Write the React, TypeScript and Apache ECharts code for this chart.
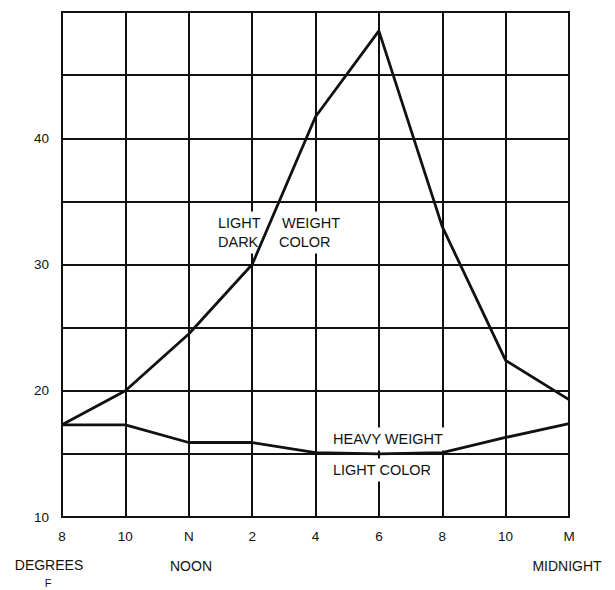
import React, { useEffect, useRef } from "react";
import * as echarts from "echarts";

const categories = ["8", "10", "N", "2", "4", "6", "8", "10", "M"];
const lightWeightDarkColor = [17.3, 20.0, 24.5, 30.0, 41.7, 48.5, 33.0, 22.4, 19.3];
const heavyWeightLightColor = [17.3, 17.3, 15.9, 15.9, 15.1, 15.0, 15.1, 16.3, 17.4];
const yTickLabels = [10, 20, 30, 40];

const FONT = "'Liberation Sans', Arial, Helvetica, sans-serif";
const INK = "#111";

export default function App() {
  const ref = useRef<HTMLDivElement>(null);

  useEffect(() => {
    if (!ref.current) return;
    const chart = echarts.init(ref.current, undefined, { renderer: "svg" });

    const txt = (text: string, x: number, y: number, align: string = "left", bg = true, size = 14) => ({
      type: "text",
      x,
      y,
      z: 3,
      style: {
        text,
        x: 0,
        y: 0,
        align,
        verticalAlign: "middle",
        font: `${size}px ${FONT}`,
        fill: INK,
        backgroundColor: bg ? "#fff" : undefined,
        padding: bg ? [4, 3, 4, 3] : 0,
      },
    });

    chart.setOption({
      animation: false,
      backgroundColor: "#fff",
      grid: {
        left: 62,
        right: 46,
        top: 12,
        bottom: 73,
        show: true,
        borderColor: INK,
        borderWidth: 2,
      },
      xAxis: {
        type: "category",
        data: categories,
        boundaryGap: false,
        axisLine: { show: true, lineStyle: { color: INK, width: 2 } },
        axisTick: { show: false },
        axisLabel: {
          interval: 0,
          margin: 12,
          fontFamily: FONT,
          fontSize: 13.5,
          color: INK,
        },
        splitLine: { show: true, interval: 0, lineStyle: { color: INK, width: 2 } },
      },
      yAxis: {
        type: "value",
        min: 10,
        max: 50,
        interval: 5,
        axisLine: { show: true, lineStyle: { color: INK, width: 2 } },
        axisTick: { show: false },
        axisLabel: {
          margin: 13,
          fontFamily: FONT,
          fontSize: 13.5,
          color: INK,
          formatter: (v: number) => (yTickLabels.includes(v) ? String(v) : ""),
        },
        splitLine: { show: true, lineStyle: { color: INK, width: 2 } },
      },
      series: [
        {
          name: "Light weight dark color",
          type: "line",
          data: lightWeightDarkColor,
          showSymbol: false,
          z: 5,
          lineStyle: { color: INK, width: 2.8 },
        },
        {
          name: "Heavy weight light color",
          type: "line",
          data: heavyWeightLightColor,
          showSymbol: false,
          z: 5,
          lineStyle: { color: INK, width: 2.8 },
        },
      ],
      graphic: [
        txt("LIGHT", 215, 223, "left", true, 14.5),
        txt("DARK", 215, 242, "left", true, 14.5),
        txt("WEIGHT", 279, 223, "left", true, 14.5),
        txt("COLOR", 276, 242, "left", true, 14.5),
        txt("HEAVY WEIGHT", 330, 439, "left", true, 14.5),
        txt("LIGHT COLOR", 330, 470, "left", true, 14.5),
        txt("DEGREES", 49, 565, "center", false),
        txt("F", 48, 583, "center", false, 11),
        txt("NOON", 191, 566, "center", false),
        txt("MIDNIGHT", 567, 566, "center", false),
      ],
    });

    return () => chart.dispose();
  }, []);

  return (
    <div
      ref={ref}
      style={{ position: "fixed", left: 0, top: 0, width: 615, height: 590, background: "#fff" }}
    />
  );
}
